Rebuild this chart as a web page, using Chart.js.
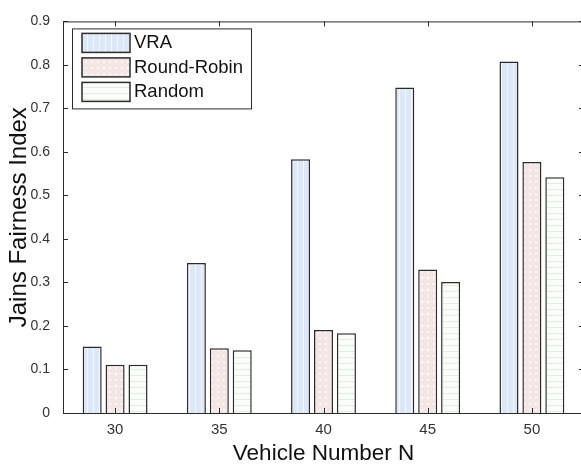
<!DOCTYPE html>
<html lang="en">
<head>
    <meta charset="UTF-8">
    <title>Jains Fairness Index</title>
    <script src="https://cdn.jsdelivr.net/npm/chart.js@4.4.1/dist/chart.umd.min.js"></script>
    <style>
        html, body {
            margin: 0;
            padding: 0;
            background: white;
            overflow: hidden;
        }
        canvas {
            display: block;
        }
    </style>
</head>
<body>
    <canvas id="chart" width="600" height="466"></canvas>
    <script>
        // Data
        const categories = ['30', '35', '40', '45', '50'];
        const vra = [0.153, 0.345, 0.583, 0.748, 0.808];
        const roundRobin = [0.111, 0.149, 0.191, 0.330, 0.577];
        const random = [0.111, 0.144, 0.183, 0.301, 0.542];
        const yTickLabels = ['0', '0.1', '0.2', '0.3', '0.4', '0.5', '0.6', '0.7', '0.8', '0.9'];

        const FONT = '"Liberation Sans", Arial, sans-serif';
        const EDGE = '#2b2b2b';

        // hatch-like fills, similar to the matlab textures
        function makePattern(draw) {
            const c = document.createElement('canvas');
            c.width = 6;
            c.height = 6;
            draw(c.getContext('2d'));
            return c.getContext('2d').createPattern(c, 'repeat');
        }

        const stripes = makePattern(ctx => {
            ctx.fillStyle = '#dce8f8';
            ctx.fillRect(0, 0, 6, 6);
            ctx.fillStyle = '#f4f8fe';
            ctx.fillRect(3, 0, 1, 6);
        });

        const dots = makePattern(ctx => {
            ctx.fillStyle = '#f3e6e4';
            ctx.fillRect(0, 0, 6, 6);
            ctx.fillStyle = '#fcf8f7';
            ctx.fillRect(1, 1, 2, 2);
        });

        const lines = makePattern(ctx => {
            ctx.fillStyle = '#fbfdfb';
            ctx.fillRect(0, 0, 6, 6);
            ctx.fillStyle = '#dfeedf';
            ctx.fillRect(0, 3, 6, 1);
        });

        // box with inward ticks on all four sides
        const framePlugin = {
            id: 'frame',
            afterDatasetsDraw(chart) {
                const { ctx, chartArea: a, scales: { x, y } } = chart;
                const t = 5;
                ctx.save();
                ctx.strokeStyle = EDGE;
                ctx.lineWidth = 1;
                ctx.strokeRect(a.left + 0.5, a.top + 0.5, a.right - a.left, a.bottom - a.top);
                ctx.beginPath();
                y.ticks.forEach((tk, i) => {
                    const py = Math.round(y.getPixelForTick(i)) + 0.5;
                    ctx.moveTo(a.left, py); ctx.lineTo(a.left + t, py);
                    ctx.moveTo(a.right, py); ctx.lineTo(a.right - t, py);
                });
                x.ticks.forEach((tk, i) => {
                    const px = Math.round(x.getPixelForTick(i)) + 0.5;
                    ctx.moveTo(px, a.bottom); ctx.lineTo(px, a.bottom - t);
                    ctx.moveTo(px, a.top); ctx.lineTo(px, a.top + t);
                });
                ctx.stroke();
                ctx.restore();
            }
        };

        // legend box drawn inside the upper left corner
        const legendPlugin = {
            id: 'innerLegend',
            afterDraw(chart) {
                const { ctx, chartArea: a } = chart;
                const bx = a.left + 9, by = a.top + 7;
                const bw = 179, bh = 80;
                ctx.save();
                ctx.fillStyle = 'white';
                ctx.fillRect(bx, by, bw, bh);
                ctx.strokeStyle = EDGE;
                ctx.lineWidth = 1;
                ctx.strokeRect(bx + 0.5, by + 0.5, bw, bh);
                ctx.font = '18.5px ' + FONT;
                ctx.textBaseline = 'middle';
                chart.data.datasets.forEach((ds, i) => {
                    const sy = by + 5 + i * 24.5;
                    ctx.fillStyle = ds.backgroundColor;
                    ctx.fillRect(bx + 10, sy, 48, 19);
                    ctx.lineWidth = 1.5;
                    ctx.strokeRect(bx + 10, sy, 48, 19);
                    ctx.fillStyle = '#111';
                    ctx.fillText(ds.label, bx + 62, sy + 10);
                });
                ctx.restore();
            }
        };

        const barStyle = {
            borderColor: EDGE,
            borderWidth: 1.5,
            categoryPercentage: 0.66,
            barPercentage: 0.83
        };

        new Chart(document.getElementById('chart'), {
            type: 'bar',
            data: {
                labels: categories,
                datasets: [
                    { label: 'VRA', data: vra, backgroundColor: stripes, ...barStyle },
                    { label: 'Round-Robin', data: roundRobin, backgroundColor: dots, ...barStyle },
                    { label: 'Random', data: random, backgroundColor: lines, ...barStyle }
                ]
            },
            plugins: [framePlugin, legendPlugin],
            options: {
                responsive: false,
                animation: false,
                layout: { padding: { top: 12, right: 16, left: 0, bottom: 0 } },
                plugins: {
                    legend: { display: false },
                    tooltip: { enabled: false }
                },
                scales: {
                    x: {
                        grid: { display: false, drawTicks: false },
                        border: { display: false },
                        ticks: {
                            padding: 8,
                            color: '#333',
                            font: { family: FONT, size: 15 }
                        },
                        title: {
                            display: true,
                            text: 'Vehicle Number N',
                            color: '#111',
                            font: { family: FONT, size: 22.5 },
                            padding: { top: 0, bottom: -1 }
                        },
                        afterFit: s => { s.height = 53; }
                    },
                    y: {
                        min: 0,
                        max: 0.9,
                        grid: { display: false, drawTicks: false },
                        border: { display: false },
                        ticks: {
                            stepSize: 0.1,
                            padding: 13,
                            color: '#333',
                            font: { family: FONT, size: 14 },
                            callback: (v, i) => yTickLabels[i]
                        },
                        title: {
                            display: true,
                            text: 'Jains Fairness Index',
                            color: '#111',
                            font: { family: FONT, size: 24 },
                            padding: { top: 5, bottom: 0 }
                        },
                        afterFit: s => { s.width = 63; }
                    }
                }
            }
        });
    </script>
</body>
</html>
